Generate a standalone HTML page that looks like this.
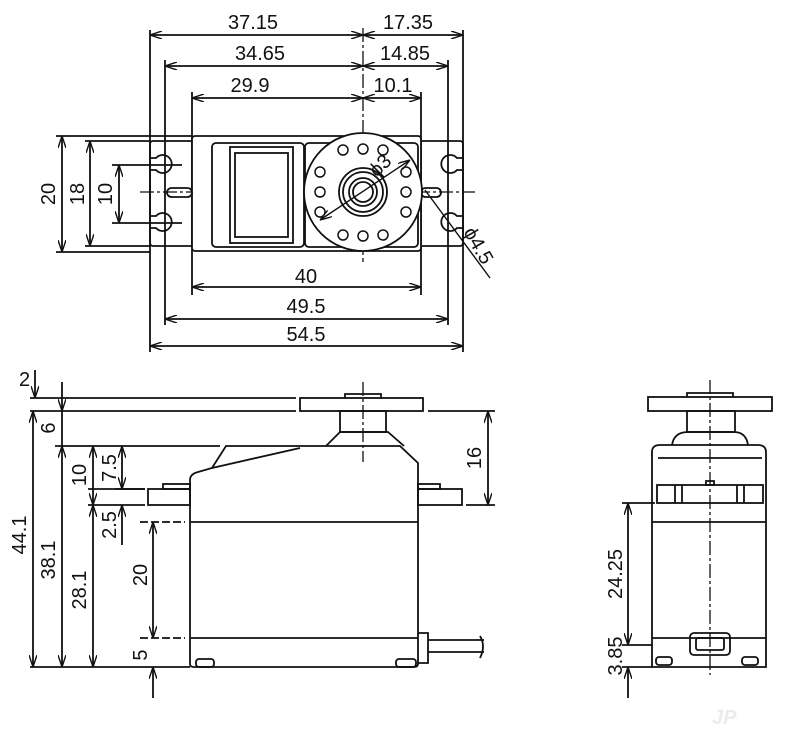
<!DOCTYPE html>
<html><head><meta charset="utf-8"><style>
html,body{margin:0;padding:0;background:#fff}
svg{display:block}
text{font-family:"Liberation Sans",sans-serif;font-size:20px;fill:#111}
</style></head><body>
<svg width="800" height="744" viewBox="0 0 800 744" xmlns="http://www.w3.org/2000/svg">
<defs>
<marker id="a" viewBox="0 0 12 8" refX="12" refY="4" markerWidth="12" markerHeight="8" orient="auto-start-reverse" markerUnits="userSpaceOnUse">
<path d="M0,0 L12,4 L0,8" fill="none" stroke="#111" stroke-width="1.4"/></marker>
</defs>
<g stroke="#111" stroke-width="1.8" fill="none">
<line x1="150" y1="30" x2="150" y2="352"/>
<line x1="165" y1="60" x2="165" y2="325"/>
<line x1="192" y1="92" x2="192" y2="295"/>
<line x1="421" y1="92" x2="421" y2="295"/>
<line x1="448" y1="60" x2="448" y2="325"/>
<line x1="463" y1="30" x2="463" y2="352"/>
<line x1="363" y1="28" x2="363" y2="262" stroke-dasharray="14,3,3,3" stroke-width="1.3"/>
<line x1="140" y1="192" x2="475" y2="192" stroke-dasharray="14,3,3,3" stroke-width="1.3"/>
<line x1="150" y1="35" x2="363" y2="35" marker-start="url(#a)" marker-end="url(#a)"/>
<line x1="363" y1="35" x2="463" y2="35" marker-start="url(#a)" marker-end="url(#a)"/>
<line x1="165" y1="66" x2="363" y2="66" marker-start="url(#a)" marker-end="url(#a)"/>
<line x1="363" y1="66" x2="448" y2="66" marker-start="url(#a)" marker-end="url(#a)"/>
<line x1="192" y1="98" x2="363" y2="98" marker-start="url(#a)" marker-end="url(#a)"/>
<line x1="363" y1="98" x2="421" y2="98" marker-start="url(#a)" marker-end="url(#a)"/>
<line x1="192" y1="287" x2="421" y2="287" marker-start="url(#a)" marker-end="url(#a)"/>
<line x1="165" y1="319" x2="448" y2="319" marker-start="url(#a)" marker-end="url(#a)"/>
<line x1="150" y1="346" x2="463" y2="346" marker-start="url(#a)" marker-end="url(#a)"/>
<line x1="56" y1="136" x2="192" y2="136"/>
<line x1="56" y1="252" x2="150" y2="252"/>
<line x1="85" y1="141" x2="150" y2="141"/>
<line x1="85" y1="246" x2="150" y2="246"/>
<line x1="112" y1="165" x2="182" y2="165"/>
<line x1="112" y1="223" x2="182" y2="223"/>
<line x1="62" y1="136" x2="62" y2="252" marker-start="url(#a)" marker-end="url(#a)"/>
<line x1="90" y1="141" x2="90" y2="246" marker-start="url(#a)" marker-end="url(#a)"/>
<line x1="119" y1="165" x2="119" y2="223" marker-start="url(#a)" marker-end="url(#a)"/>
<rect x="150" y="141" width="313" height="105" rx="3"/>
<rect x="192" y="136" width="229" height="115" rx="3" fill="#fff"/>
<rect x="212" y="143" width="92" height="104" rx="4"/>
<rect x="230" y="147" width="63" height="96"/>
<rect x="235" y="153" width="53" height="84"/>
<rect x="305" y="143" width="113" height="104" rx="4"/>
<path d="M150,158 h6 a9,9 0 1 1 0,12 h-6"/>
<path d="M150,216 h6 a9,9 0 1 1 0,12 h-6"/>
<path d="M463,158 h-6 a9,9 0 1 0 0,12 h6"/>
<path d="M463,216 h-6 a9,9 0 1 0 0,12 h6"/>
<rect x="167" y="188" width="25" height="9" rx="4.5"/>
<rect x="421" y="188" width="20" height="9" rx="4.5"/>
<circle cx="363" cy="192" r="59" fill="#fff"/>
<g stroke-width="1.5">
<circle cx="343" cy="150" r="5"/><circle cx="363" cy="149" r="5"/><circle cx="383" cy="150" r="5"/>
<circle cx="343" cy="235" r="5"/><circle cx="363" cy="236" r="5"/><circle cx="383" cy="235" r="5"/>
<circle cx="320" cy="172" r="5"/><circle cx="320" cy="192" r="5"/><circle cx="320" cy="212" r="5"/>
<circle cx="406" cy="172" r="5"/><circle cx="406" cy="192" r="5"/><circle cx="406" cy="212" r="5"/>
</g>
<circle cx="363" cy="192" r="24"/>
<circle cx="363" cy="192" r="20"/>
<circle cx="363" cy="192" r="14"/>
<circle cx="363" cy="192" r="10"/>
<line x1="320" y1="220" x2="410" y2="160" marker-start="url(#a)" marker-end="url(#a)" stroke-width="1.4"/>
<line x1="425" y1="190" x2="490" y2="278" stroke-width="1.4"/>
<line x1="30" y1="398" x2="296" y2="398"/>
<line x1="30" y1="411" x2="296" y2="411"/>
<line x1="55" y1="446" x2="220" y2="446"/>
<line x1="88" y1="489" x2="145" y2="489"/>
<line x1="88" y1="505" x2="145" y2="505"/>
<line x1="140" y1="522" x2="185" y2="522" stroke-dasharray="8,3"/>
<line x1="140" y1="638" x2="185" y2="638" stroke-dasharray="8,3"/>
<line x1="30" y1="667" x2="190" y2="667"/>
<line x1="428" y1="411" x2="495" y2="411"/>
<line x1="466" y1="505" x2="495" y2="505"/>
<rect x="300" y="398" width="123" height="13"/>
<path d="M345,398 v-4 h36 v4"/>
<rect x="340" y="411" width="46" height="21"/>
<path d="M326,446 L340,432 H388 L404,446"/>
<line x1="363" y1="382" x2="363" y2="462" stroke-dasharray="14,3,3,3" stroke-width="1.3"/>
<path d="M190,664 V480 Q190,474 198,472 L212,468 L226,446 H400 L418,463 V664 Q418,667 414,667 H194 Q190,667 190,664"/>
<line x1="212" y1="468" x2="300" y2="448"/>
<rect x="148" y="489" width="42" height="16"/>
<rect x="163" y="484" width="27" height="5"/>
<rect x="418" y="489" width="44" height="16"/>
<rect x="418" y="484" width="22" height="5"/>
<line x1="190" y1="522" x2="418" y2="522"/>
<line x1="190" y1="638" x2="418" y2="638"/>
<rect x="196" y="659" width="18" height="8" rx="3"/>
<rect x="396" y="659" width="20" height="8" rx="3"/>
<path d="M418,633 h10 v30 h-10"/>
<path d="M428,640 h56 M428,652 h56 M480,636 q6,10 0,22"/>
<line x1="35" y1="370" x2="35" y2="398" marker-end="url(#a)"/>
<line x1="33" y1="411" x2="33" y2="667" marker-start="url(#a)" marker-end="url(#a)"/>
<line x1="62" y1="382" x2="62" y2="411" marker-end="url(#a)"/>
<line x1="62" y1="446" x2="62" y2="667" marker-start="url(#a)" marker-end="url(#a)"/>
<line x1="62" y1="411" x2="62" y2="446"/>
<line x1="93" y1="446" x2="93" y2="505" marker-start="url(#a)" marker-end="url(#a)"/>
<line x1="93" y1="505" x2="93" y2="667" marker-start="url(#a)" marker-end="url(#a)"/>
<line x1="122" y1="446" x2="122" y2="489" marker-start="url(#a)" marker-end="url(#a)"/>
<line x1="122" y1="505" x2="122" y2="545" marker-start="url(#a)"/>
<line x1="115" y1="489" x2="145" y2="489"/>
<line x1="153" y1="522" x2="153" y2="638" marker-start="url(#a)" marker-end="url(#a)"/>
<line x1="153" y1="667" x2="153" y2="698" marker-start="url(#a)"/>
<line x1="488" y1="411" x2="488" y2="505" marker-start="url(#a)" marker-end="url(#a)"/>
<rect x="648" y="397" width="124" height="14"/>
<path d="M687,397 v-4 h46 v4"/>
<rect x="687" y="411" width="48" height="21"/>
<path d="M672,445 Q674,432 688,432 H734 Q746,432 748,445"/>
<path d="M652,667 V452 Q652,445 660,445 H758 Q766,445 766,452 V667 Z"/>
<line x1="658" y1="458" x2="762" y2="458"/>
<line x1="652" y1="522" x2="766" y2="522"/>
<line x1="652" y1="638" x2="766" y2="638"/>
<rect x="657" y="485" width="106" height="18"/>
<line x1="675" y1="485" x2="675" y2="503"/><line x1="682" y1="485" x2="682" y2="503"/>
<line x1="737" y1="485" x2="737" y2="503"/><line x1="744" y1="485" x2="744" y2="503"/>
<rect x="706" y="481" width="8" height="4"/>
<rect x="690" y="633" width="40" height="22" rx="4"/>
<rect x="696" y="638" width="28" height="12" rx="2"/>
<rect x="656" y="657" width="16" height="8" rx="3"/>
<rect x="742" y="657" width="16" height="8" rx="3"/>
<line x1="710" y1="380" x2="710" y2="675" stroke-dasharray="14,3,3,3" stroke-width="1.3"/>
<line x1="622" y1="503" x2="655" y2="503"/>
<line x1="622" y1="645" x2="652" y2="645"/>
<line x1="622" y1="667" x2="652" y2="667"/>
<line x1="628" y1="503" x2="628" y2="645" marker-start="url(#a)" marker-end="url(#a)"/>
<line x1="628" y1="667" x2="628" y2="698" marker-start="url(#a)"/>
</g>
<text x="253" y="29" text-anchor="middle">37.15</text>
<text x="408" y="29" text-anchor="middle">17.35</text>
<text x="260" y="60" text-anchor="middle">34.65</text>
<text x="405" y="60" text-anchor="middle">14.85</text>
<text x="250" y="92" text-anchor="middle">29.9</text>
<text x="393" y="92" text-anchor="middle">10.1</text>
<text x="306" y="283" text-anchor="middle">40</text>
<text x="306" y="313" text-anchor="middle">49.5</text>
<text x="306" y="341" text-anchor="middle">54.5</text>
<text transform="translate(55,194) rotate(-90)" text-anchor="middle">20</text>
<text transform="translate(84,194) rotate(-90)" text-anchor="middle">18</text>
<text transform="translate(112,194) rotate(-90)" text-anchor="middle">10</text>
<text transform="translate(377,178) rotate(-45)" font-size="18">ϕ3</text>
<text transform="translate(463,232) rotate(60)" font-size="18">ϕ4.5</text>
<text x="19" y="386">2</text>
<text transform="translate(26,535) rotate(-90)" text-anchor="middle">44.1</text>
<text transform="translate(55,428) rotate(-90)" text-anchor="middle">6</text>
<text transform="translate(55,560) rotate(-90)" text-anchor="middle">38.1</text>
<text transform="translate(86,475) rotate(-90)" text-anchor="middle">10</text>
<text transform="translate(86,590) rotate(-90)" text-anchor="middle">28.1</text>
<text transform="translate(116,468) rotate(-90)" text-anchor="middle">7.5</text>
<text transform="translate(116,525) rotate(-90)" text-anchor="middle">2.5</text>
<text transform="translate(147,575) rotate(-90)" text-anchor="middle">20</text>
<text transform="translate(147,655) rotate(-90)" text-anchor="middle">5</text>
<text transform="translate(481,458) rotate(-90)" text-anchor="middle">16</text>
<text transform="translate(622,574) rotate(-90)" text-anchor="middle">24.25</text>
<text transform="translate(622,656) rotate(-90)" text-anchor="middle">3.85</text>
<text x="712" y="724" font-size="50" font-style="italic" font-weight="bold" style="fill:#ececec">JP</text>
</svg>
</body></html>
